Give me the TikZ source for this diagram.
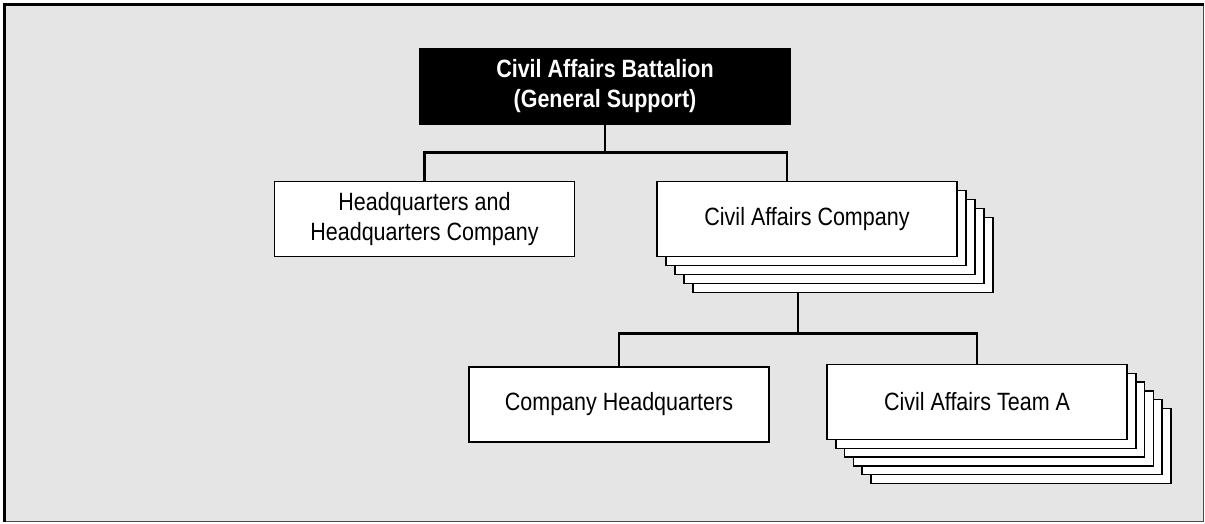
\documentclass[tikz,border=0pt]{standalone}
\usepackage{fontspec}
\setmainfont{Liberation Sans}[FakeStretch=0.86]
\begin{document}
\begin{tikzpicture}[x=1pt,y=-1pt,line join=miter,
	unit/.style={draw=black,line width=1.5pt,fill=white,minimum width=300pt,minimum height=75pt,inner sep=0pt,align=center,font=\fontsize{25}{30.5}\selectfont},
	cmd/.style={unit,fill=black,text=white,minimum width=370pt,font=\fontsize{25}{30}\selectfont\bfseries},
	link/.style={line width=2.6pt}]
	\useasboundingbox (0,0) rectangle (1205,523);
	% frame
	\draw[draw=black!70,line width=1pt,fill=black!10] (4.5,4.5) rectangle (1203.5,521.5);
	\draw[line width=3.2pt] (4.5,521.5) -- (4.5,4.5) -- (1203.5,4.5);
	% battalion and its units
	\node[cmd] (bn) at (605,86.5) {Civil Affairs Battalion\\(General Support)};
	\node[unit] (hhc) at (424.5,219) {Headquarters and\\Headquarters Company};
	\foreach \i in {4,...,1}
		\node[unit] (co\i) at (807+9*\i,219+9*\i) {};
	\node[unit] (co) at (807,219) {Civil Affairs Company};
	% company and its teams
	\node[unit] (cohq) at (619,404.5) {Company Headquarters};
	\foreach \i in {5,...,1}
		\node[unit] (cat\i) at (977+8.8*\i,402+8.8*\i) {};
	\node[unit] (cat) at (977,402) {Civil Affairs Team A};
	% connectors
	\draw[link] (bn.south) -- ++(0,28) -| (hhc.north);
	\draw[link] (bn.south) -- ++(0,28) -| ([xshift=-20pt]co.north);
	\draw[link] ([xshift=-9pt]co.south |- co4.south) -- ++(0,40) coordinate (split) -| (cohq.north);
	\draw[link] (split) -| (cat.north);
\end{tikzpicture}
\end{document}
